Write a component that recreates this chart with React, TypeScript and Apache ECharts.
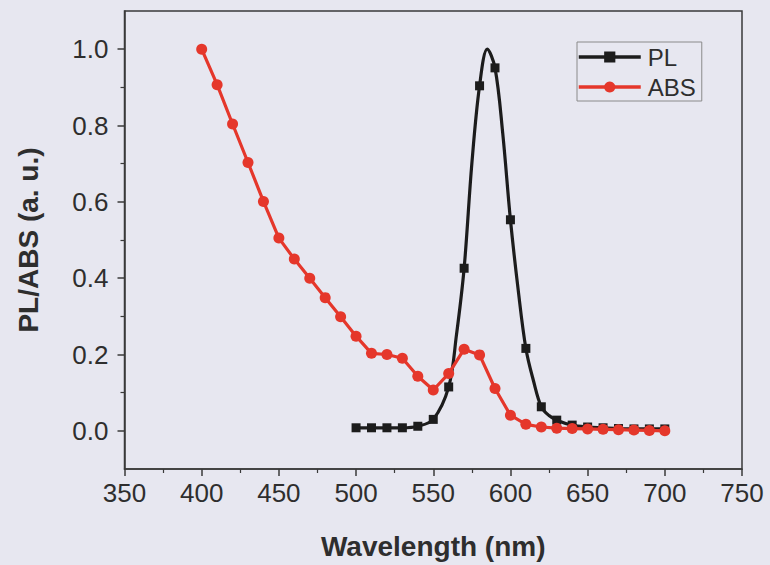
import React, { useEffect, useRef } from "react";
import * as echarts from "echarts";

// ---- data ----
const plWavelength = [500, 510, 520, 530, 540, 550, 560, 565, 570, 575, 580, 585, 590, 595, 600, 605, 610, 615, 620, 625, 630, 640, 650, 660, 670, 680, 690, 700];
const plValue = [0.008, 0.008, 0.008, 0.008, 0.012, 0.03, 0.115, 0.25, 0.426, 0.7, 0.904, 1.0, 0.951, 0.78, 0.553, 0.37, 0.216, 0.13, 0.063, 0.04, 0.028, 0.015, 0.01, 0.008, 0.006, 0.005, 0.005, 0.005];

const absWavelength = [400, 410, 420, 430, 440, 450, 460, 470, 480, 490, 500, 510, 520, 530, 540, 550, 560, 570, 580, 590, 600, 610, 620, 630, 640, 650, 660, 670, 680, 690, 700];
const absValue = [1.0, 0.907, 0.804, 0.703, 0.601, 0.505, 0.45, 0.4, 0.349, 0.299, 0.248, 0.203, 0.2, 0.19, 0.143, 0.107, 0.15, 0.214, 0.199, 0.111, 0.041, 0.017, 0.01, 0.007, 0.006, 0.005, 0.004, 0.003, 0.002, 0.001, 0.0];

const yTickValues = [0, 0.2, 0.4, 0.6, 0.8, 1.0];
const yMinorTickValues = [0.1, 0.3, 0.5, 0.7, 0.9];

const seriesNames = ["PL", "ABS"];
const xTitle = "Wavelength (nm)";
const yTitle = "PL/ABS (a. u.)";

const BG = "#e7e7f0";
const AXIS = "#3a3a3a";
const TEXT = "#2e2e2e";
const BLACK = "#1c1c1c";
const RED = "#e5372b";
const FONT = "'Liberation Sans', Arial, Helvetica, sans-serif";

export default function App() {
  const ref = useRef<HTMLDivElement>(null);

  useEffect(() => {
    document.body.style.margin = "0";
    document.body.style.background = BG;
    const chart = echarts.init(ref.current!, null, { renderer: "svg" });
    // markers only on the 10 nm readings, as in the picture
    const pl = plWavelength.map((w, i) =>
      w % 10 === 0 ? { value: [w, plValue[i]] } : { value: [w, plValue[i]], symbol: "none" }
    );
    const abs = absWavelength.map((w, i) => [w, absValue[i]]);

    chart.setOption({
      animation: false,
      backgroundColor: BG,
      textStyle: { fontFamily: FONT },
      grid: {
        left: 124.5,
        right: 28,
        top: 11,
        bottom: 96,
        containLabel: false,
        outerBoundsMode: "none",
        show: true,
        borderColor: AXIS,
        borderWidth: 1.5,
        backgroundColor: "transparent",
      },
      legend: {
        orient: "vertical",
        left: 577,
        top: 42,
        padding: [3, 6, 2, 0],
        itemGap: 6,
        itemWidth: 62,
        itemHeight: 14,
        borderColor: "#8a8a8a",
        borderWidth: 1,
        data: seriesNames,
        lineStyle: { width: 3.5 },
        textStyle: { fontSize: 24, color: TEXT, fontFamily: FONT, padding: [0, 0, 0, 2] },
      },
      xAxis: {
        type: "value",
        min: 350,
        max: 750,
        interval: 50,
        name: xTitle,
        nameLocation: "middle",
        nameGap: 63,
        nameTextStyle: { fontSize: 28, fontWeight: "bold", color: TEXT, fontFamily: FONT },
        axisLine: { show: true, onZero: false, lineStyle: { color: AXIS, width: 1.5 } },
        axisTick: { show: true, inside: false, length: 7, lineStyle: { color: AXIS, width: 1.5 } },
        minorTick: { show: true, splitNumber: 2, length: 4, lineStyle: { color: AXIS, width: 1.2 } },
        splitLine: { show: false },
        minorSplitLine: { show: false },
        axisLabel: { fontSize: 26, color: TEXT, margin: 11, fontFamily: FONT },
      },
      yAxis: [
        {
          type: "value",
          min: -0.1,
          max: 1.1,
          name: yTitle,
          nameLocation: "middle",
          nameGap: 82,
          nameTextStyle: { fontSize: 28, fontWeight: "bold", color: TEXT, fontFamily: FONT },
          axisLine: { show: true, onZero: false, lineStyle: { color: AXIS, width: 1.5 } },
          axisTick: { show: true, inside: false, length: 7, customValues: yTickValues, lineStyle: { color: AXIS, width: 1.5 } },
          splitLine: { show: false },
          axisLabel: {
            fontSize: 26,
            color: TEXT,
            margin: 16,
            fontFamily: FONT,
            customValues: yTickValues,
            formatter: (v: number) => v.toFixed(1),
          },
        },
        {
          type: "value",
          min: -0.1,
          max: 1.1,
          position: "left",
          axisLine: { show: false },
          axisTick: { show: true, inside: false, length: 4, customValues: yMinorTickValues, lineStyle: { color: AXIS, width: 1.2 } },
          axisLabel: { show: false, customValues: yMinorTickValues },
          splitLine: { show: false },
        },
      ],
      series: [
        {
          name: seriesNames[0],
          type: "line",
          data: pl,
          smooth: 0.35,
          symbol: "rect",
          symbolSize: 9,
          showAllSymbol: true,
          color: BLACK,
          lineStyle: { width: 3.2, color: BLACK },
          itemStyle: { color: BLACK },
          z: 2,
        },
        {
          name: seriesNames[1],
          type: "line",
          data: abs,
          smooth: false,
          symbol: "circle",
          symbolSize: 11,
          showAllSymbol: true,
          color: RED,
          lineStyle: { width: 3.2, color: RED },
          itemStyle: { color: RED },
          z: 3,
        },
      ],
    });
    return () => chart.dispose();
  }, []);

  return (
    <div
      ref={ref}
      style={{ position: "fixed", left: 0, top: 0, width: 770, height: 565, background: BG }}
    />
  );
}
